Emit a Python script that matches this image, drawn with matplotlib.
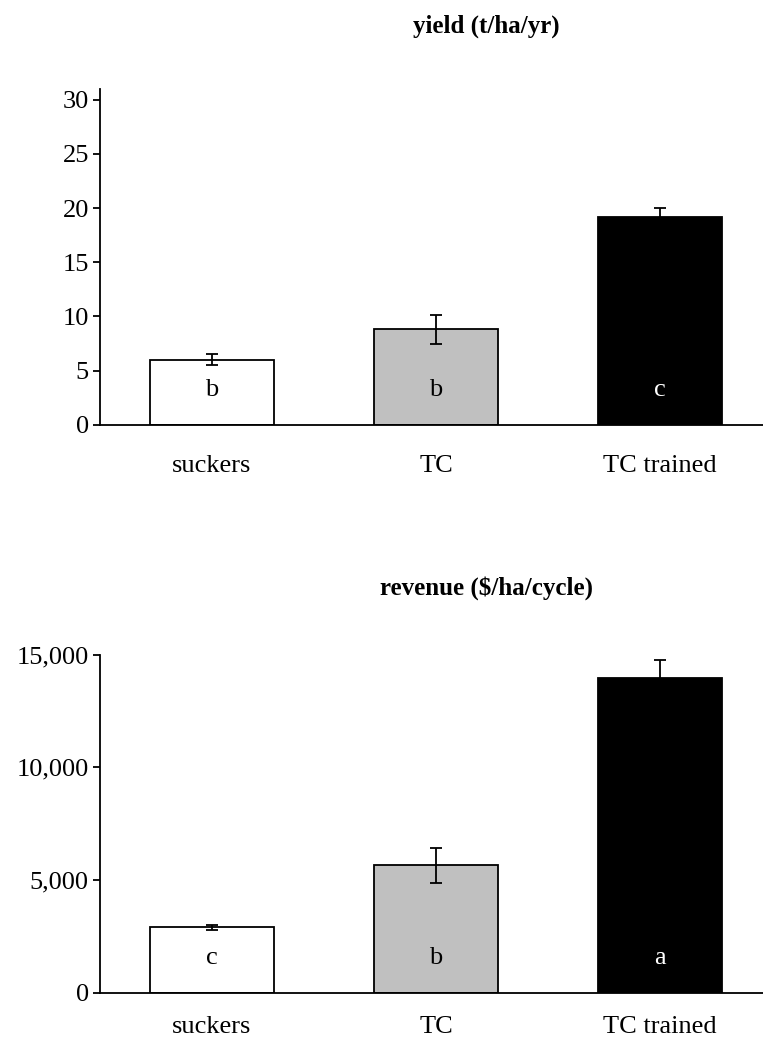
import matplotlib.pyplot as plt

plt.rcParams['font.family'] = ['Liberation Serif', 'DejaVu Serif']

categories = ['suckers', 'TC', 'TC trained']
bar_colors = ['white', '#c0c0c0', 'black']
letter_colors = ['black', 'black', 'white']

yield_vals = [6.0, 8.8, 19.2]
yield_err = [0.5, 1.3, 0.8]
yield_letters = ['b', 'b', 'c']
yield_letter_y = 3.2

revenue_vals = [2900, 5650, 13950]
revenue_err = [130, 780, 790]
revenue_letters = ['c', 'b', 'a']
revenue_letter_y = 1550

fig = plt.figure(figsize=(7.63, 10.44), dpi=100)
ax1 = fig.add_axes([0.131, 0.593, 0.869, 0.322])
ax2 = fig.add_axes([0.131, 0.049, 0.869, 0.324])


def draw(ax, vals, err, letters, letter_y, ylim, ticks, ticklabels, xpad):
    x = range(len(categories))
    ax.bar(x, vals, width=0.556, color=bar_colors, edgecolor='black', linewidth=1.3,
           yerr=err, capsize=4.5, error_kw=dict(elinewidth=1.3, capthick=1.3, ecolor='black'))
    for i, (lt, c) in enumerate(zip(letters, letter_colors)):
        ax.text(i, letter_y, lt, ha='center', va='center', fontsize=19, color=c)
    ax.set_xlim(-0.5, 2.46)
    ax.set_ylim(*ylim)
    ax.set_yticks(ticks)
    ax.set_yticklabels(ticklabels)
    ax.set_xticks(list(x))
    ax.set_xticklabels(categories)
    ax.spines['top'].set_visible(False)
    ax.spines['right'].set_visible(False)
    ax.spines['left'].set_linewidth(1.3)
    ax.spines['bottom'].set_linewidth(1.3)
    ax.tick_params(axis='y', direction='out', length=5, width=1.3, labelsize=19, pad=3)
    ax.tick_params(axis='x', length=0, labelsize=19, pad=xpad)


draw(ax1, yield_vals, yield_err, yield_letters, yield_letter_y, (0, 31),
     [0, 5, 10, 15, 20, 25, 30], ['0', '5', '10', '15', '20', '25', '30'], 22)
draw(ax2, revenue_vals, revenue_err, revenue_letters, revenue_letter_y, (0, 15000),
     [0, 5000, 10000, 15000], ['0', '5,000', '10,000', '15,000'], 17)

fig.text(0.638, 0.975, 'yield (t/ha/yr)', ha='center', va='center', fontsize=18, fontweight='bold')
fig.text(0.638, 0.437, 'revenue ($/ha/cycle)', ha='center', va='center', fontsize=18, fontweight='bold')

fig.savefig('out.png', dpi=100)
